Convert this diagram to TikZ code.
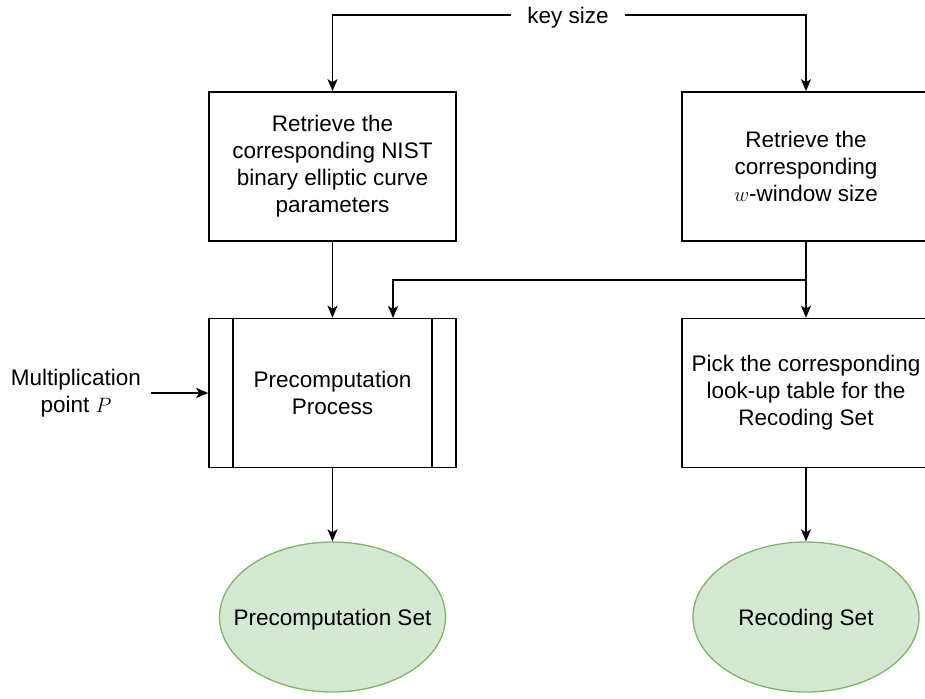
\documentclass[tikz,border=0pt]{standalone}
\usepackage{fontspec}
\setmainfont{Liberation Sans}
\usetikzlibrary{arrows.meta,shapes.geometric}
\definecolor{setfill}{HTML}{D5E8D4}
\definecolor{setline}{HTML}{82B366}
\begin{document}
\begin{tikzpicture}[x=1pt,y=-1pt,
  txt/.style={font=\fontsize{22.5}{27}\selectfont, align=center,
    execute at begin node={\rule{0pt}{22pt}}},
  box/.style={txt, draw, line width=1.6pt, minimum width=247pt, minimum height=149pt, inner sep=0pt},
  setnode/.style={txt, ellipse, draw=setline, fill=setfill, line width=1.3pt, minimum width=226pt, minimum height=150pt, inner xsep=-30pt, inner ysep=0pt},
  arr/.style={line width=1.6pt, -{Stealth[length=12pt,width=10pt,inset=3pt]}}]
\useasboundingbox (0,0) rectangle (925,698);
\clip (0,0) rectangle (925,698);

% input
\node[txt, inner xsep=16pt] (key) at (568,15) {key size};

% retrieval steps
\node[box] (ret1) at (332.5,166.5) {Retrieve the\\corresponding NIST\\binary elliptic curve\\parameters};
\node[box, minimum width=248pt] (ret2) at (806,166.5) {Retrieve the\\corresponding\\$w$-window size};

% processing steps
\node[box] (proc) at (332.5,393) {Precomputation\\Process};
\draw[line width=1.6pt] ([xshift=25pt]proc.north west) -- ([xshift=25pt]proc.south west);
\draw[line width=1.6pt] ([xshift=-25pt]proc.north east) -- ([xshift=-25pt]proc.south east);
\node[box, minimum width=248pt] (pick) at (806,393) {Pick the corresponding\\look-up table for the\\Recoding Set};

\node[txt, inner xsep=10pt] (mult) at (76,393) {Multiplication\\point $P$};

% results
\node[setnode] (set1) at (332.5,617) {Precomputation Set};
\node[setnode] (set2) at (806,617) {Recoding Set};

% connectors
\draw[arr] (key.west) -| (ret1.north);
\draw[arr] (key.east) -| (ret2.north);
\draw[arr] (ret1.south) -- (proc.north);
\draw[arr] (ret2.south) -- (pick.north);
\coordinate (branch) at (806,280);
\coordinate (procin) at (393,318);
\draw[arr] (branch) -| (procin);
\draw[arr] (mult.east) -- (proc.west);
\draw[arr] (proc.south) -- (set1.north);
\draw[arr] (pick.south) -- (set2.north);
\end{tikzpicture}
\end{document}
